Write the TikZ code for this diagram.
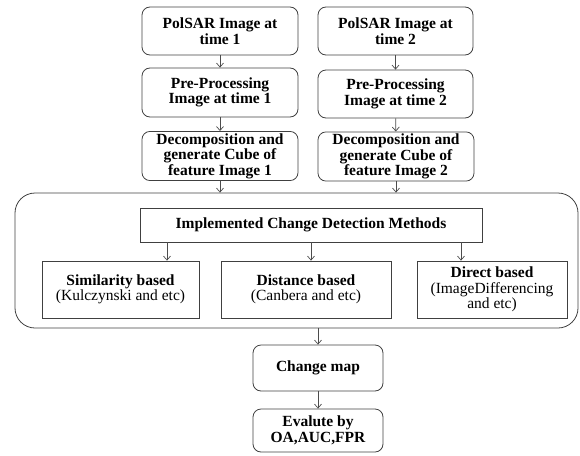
\documentclass[tikz,border=0pt]{standalone}
\usepackage{fontspec}
\setmainfont{Liberation Serif}
\usetikzlibrary{arrows.meta}
\tikzset{
  stage/.style={draw=black!75, line width=0.8pt, rounded corners=8pt, align=center,
    inner sep=2pt, font=\fontsize{15.5}{15.5}\selectfont\bfseries},
  method/.style={stage, rounded corners=0pt},
  flow/.style={->, draw=black!70, line width=0.7pt},
}
\begin{document}
\begin{tikzpicture}[x=1pt, y=-1pt, >={Straight Barb[length=4pt,width=7pt]}]
      \useasboundingbox (0,0) rectangle (580,455);
      % input chain for the two dates
      \node (img1)[stage, minimum width=156, minimum height=48] at (220, 31) {PolSAR Image at\\time 1};
      \node (img2)[stage, minimum width=155, minimum height=48] at (395.5, 31) {PolSAR Image at\\time 2};
      \node (pre1)[stage, minimum width=156, minimum height=49] at (220, 92.5) {Pre-Processing\\Image at time 1};
      \node (pre2)[stage, minimum width=155, minimum height=48] at (395.5, 94) {Pre-Processing\\Image at time 2};
      \node (dec1)[stage, minimum width=156, minimum height=48] at (220, 156) {Decomposition and\\generate Cube of\\feature Image 1};
      \node (dec2)[stage, minimum width=156, minimum height=47] at (396, 156.5) {Decomposition and\\generate Cube of\\feature Image 2};
      % change detection block
      \node (cdm)[stage, rounded corners=20pt, minimum width=563, minimum height=135] at (296.5, 260.5) {};
      \node (impl)[method, minimum width=342, minimum height=34] at (311, 225) {Implemented Change Detection Methods};
      \node (sim)[method, minimum width=157, minimum height=57] at (120.5, 289.5) {Similarity based\\{\mdseries (Kulczynski and etc)}};
      \node (dist)[method, minimum width=170, minimum height=57] at (306, 289.5) {Distance based\\{\mdseries (Canbera and etc)}};
      \node (dir)[method, minimum width=150, minimum height=57] at (492, 289.5) {Direct based\\{\mdseries (ImageDifferencing}\\{\mdseries and etc)}};
      % outputs
      \node (cmap)[stage, minimum width=130, minimum height=46] at (318, 368) {Change map};
      \node (eval)[stage, minimum width=130, minimum height=43] at (318, 430.5) {Evalute by\\OA,AUC,FPR};
      \draw[flow] (img1) -- (pre1);
      \draw[flow] (img2) -- (pre2);
      \draw[flow] (pre1) -- (dec1);
      \draw[flow] (pre2) -- (dec2);
      \draw[flow] (dec1) -- (dec1 |- cdm.north);
      \draw[flow] (dec2) -- (dec2 |- cdm.north);
      \draw[flow] (impl.south -| 167,0) -- (sim.north -| 167,0);
      \draw[flow] (impl.south -| 311,0) -- (dist.north -| 311,0);
      \draw[flow] (impl.south -| 461,0) -- (dir.north -| 461,0);
      \draw[flow] (cdm.south -| cmap) -- (cmap);
      \draw[flow] (cmap) -- (eval);
\end{tikzpicture}
\end{document}
